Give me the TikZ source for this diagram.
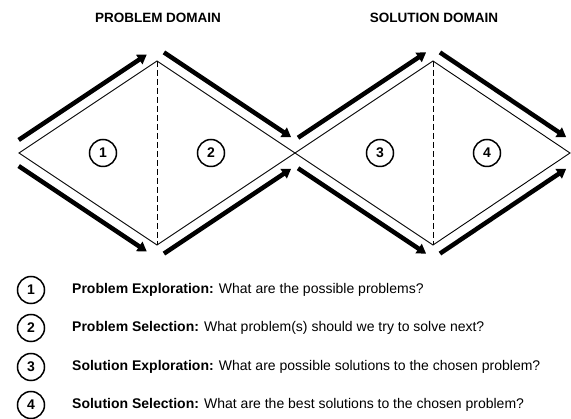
\documentclass[tikz,border=0pt]{standalone}
\usepackage{fontspec}
\setmainfont{Liberation Sans}
\usetikzlibrary{arrows.meta,calc}
\tikzset{
  edge/.style={line width=0.9pt},
  flow/.style={line width=4.5pt,-{Triangle[length=9pt,width=11pt]}},
  num/.style={circle,draw,line width=1.5pt,minimum size=27pt,inner sep=0pt,font=\bfseries\fontsize{14}{14}\selectfont},
  title/.style={font=\bfseries\fontsize{13.5}{13.5}\selectfont},
  legend/.style={anchor=west,inner sep=0pt,font=\fontsize{14}{14}\selectfont},
}
\begin{document}
\begin{tikzpicture}[x=1pt,y=-1pt]
\useasboundingbox (0,0) rectangle (571,419);

% corners of both diamonds
\coordinate (L) at (19,153);
\coordinate (T1) at (157,61);
\coordinate (B1) at (157,245);
\coordinate (M) at (295,153);
\coordinate (T2) at (433,61);
\coordinate (B2) at (433,245);
\coordinate (R) at (570,153);

\node[title] (pd) at (158,18) {PROBLEM DOMAIN};
\node[title] (sd) at (434,18) {SOLUTION DOMAIN};

\draw[edge] (L) -- (T1) -- (M) -- (B1) -- cycle;
\draw[edge] (M) -- (T2) -- (R) -- (B2) -- cycle;
\draw[edge,dash pattern=on 6pt off 3pt] (T1) -- (B1);
\draw[edge,dash pattern=on 6pt off 3pt] (T2) -- (B2);

% thick arrows running along the outside of each edge
\foreach \a/\b/\u/\v/\p/\q in {L/T1/90/-90/7/5, T1/M/90/-90/1/12, M/T2/90/-90/11/1, T2/R/90/-90/1/12,
                                L/B1/-90/90/7/5, B1/M/-90/90/1/12, M/B2/-90/90/11/1, B2/R/-90/90/1/12}
  \draw[flow,shorten <=\p pt,shorten >=\q pt] ($(\a)!11pt!\u:(\b)$) -- ($(\b)!11pt!\v:(\a)$);

\node[num] (c1) at (103,153) {1};
\node[num] (c2) at (211,153) {2};
\node[num] (c3) at (380,153) {3};
\node[num] (c4) at (487,153) {4};

% legend
\foreach \n/\y/\h/\t in {1/290/Problem Exploration:/What are the possible problems?,
                         2/328/Problem Selection:/What problem(s) should we try to solve next?,
                         3/367/Solution Exploration:/What are possible solutions to the chosen problem?,
                         4/405/Solution Selection:/What are the best solutions to the chosen problem?}
{
  \node[num] (k\n) at (31,\y) {\n};
  \node[legend] (t\n) at (72,\y) {\textbf{\h} \t};
}
\end{tikzpicture}
\end{document}
